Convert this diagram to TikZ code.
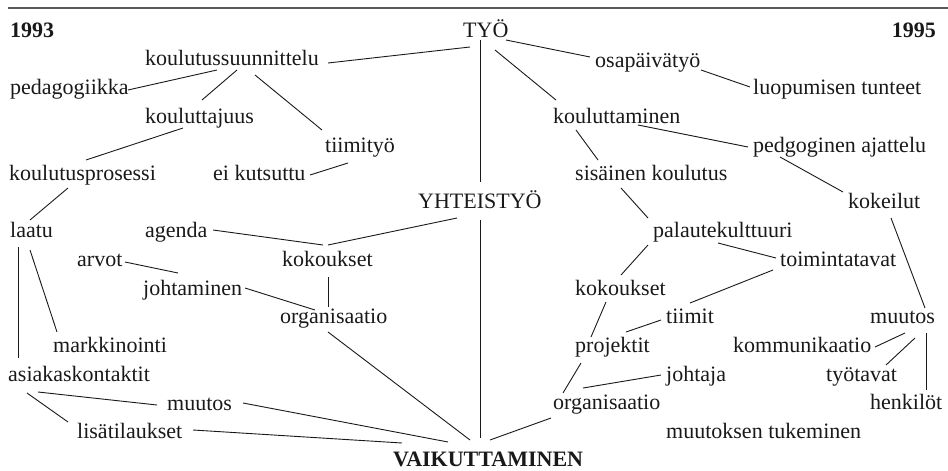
\documentclass[tikz,border=0pt]{standalone}
\usepackage{fontspec}
\setmainfont{Liberation Serif}
\newcommand\lnk[4]{\draw[conn] ([shift={(#2)}]#1.base west) -- ([shift={(#4)}]#3.base west);}
\begin{document}
\begin{tikzpicture}[x=1pt,y=-1pt,
  word/.style={anchor=base west,inner sep=0pt,font=\fontsize{22}{26}\selectfont,text=black!90},
  bword/.style={word,font=\fontsize{22}{26}\selectfont\bfseries},
  conn/.style={line width=0.9pt,black!90}]
\useasboundingbox (0,0) rectangle (948,471);
% top rule
\draw[line width=1.6pt,black!65] (8,8) -- (948,8);

% --- 1993 side and centre column
\node[bword] (y1993) at (10,37) {1993};
\node[word] (tyo) at (463,37) {TYÖ};
\node[bword,anchor=base east] (y1995) at (936,37) {1995};
\node[word] (ksuun) at (145,65) {koulutussuunnittelu};
\node[word] (peda) at (10,94) {pedagogiikka};
\node[word] (kjuus) at (145,123) {kouluttajuus};
\node[word] (tiimi) at (325,152) {tiimityö};
\node[word] (kpros) at (9,180) {koulutusprosessi};
\node[word] (eik) at (213,180) {ei kutsuttu};
\node[word] (yht) at (418,208) {YHTEISTYÖ};
\node[word] (laatu) at (10,237) {laatu};
\node[word] (agenda) at (145,237) {agenda};
\node[word] (arvot) at (77,266) {arvot};
\node[word] (kokL) at (282,266) {kokoukset};
\node[word] (johtL) at (143,295) {johtaminen};
\node[word] (orgL) at (280,323) {organisaatio};
\node[word] (mark) at (53,352) {markkinointi};
\node[word] (asiak) at (8,381) {asiakaskontaktit};
\node[word] (muuL) at (167,410) {muutos};
\node[word] (lisa) at (77,438) {lisätilaukset};
\node[bword] (vaik) at (393,466) {VAIKUTTAMINEN};

% --- 1995 side
\node[word] (osa) at (595,67) {osapäivätyö};
\node[word] (luop) at (753,94) {luopumisen tunteet};
\node[word] (kmin) at (553,123) {kouluttaminen};
\node[word] (pedg) at (753,152) {pedgoginen ajattelu};
\node[word] (sis) at (575,180) {sisäinen koulutus};
\node[word] (kok) at (848,208) {kokeilut};
\node[word] (pal) at (653,237) {palautekulttuuri};
\node[word] (toim) at (780,266) {toimintatavat};
\node[word] (kokR) at (575,295) {kokoukset};
\node[word] (tiimit) at (666,323) {tiimit};
\node[word] (muuR) at (870,323) {muutos};
\node[word] (proj) at (575,352) {projektit};
\node[word] (komm) at (733,352) {kommunikaatio};
\node[word] (johtaja) at (666,381) {johtaja};
\node[word] (tyot) at (826,381) {työtavat};
\node[word] (orgR) at (553,409) {organisaatio};
\node[word] (henk) at (870,409) {henkilöt};
\node[word] (tuk) at (666,438) {muutoksen tukeminen};

% --- links, left
\lnk{ksuun}{183,-2}{tyo}{7,10}
\lnk{ksuun}{72,5}{peda}{118,-4}
\lnk{ksuun}{92,5}{kjuus}{57,-23}
\lnk{ksuun}{110,10}{tiimi}{-3,-22}
\lnk{kjuus}{38,5}{kpros}{77,-20}
\lnk{tiimi}{23,11}{eik}{97,-5}
\lnk{kpros}{59,8}{laatu}{20,-17}
\lnk{tyo}{17,3}{yht}{62,-26}
\lnk{yht}{39,10}{kokL}{46,-21}
\lnk{agenda}{68,-7}{kokL}{41,-21}
\lnk{laatu}{8,10}{asiak}{10,-23}
\lnk{laatu}{20,13}{mark}{4,-20}
\lnk{arvot}{48,-4}{johtL}{35,-22}
\lnk{kokL}{46,11}{orgL}{48,-16}
\lnk{johtL}{102,-7}{orgL}{35,-13}
\lnk{orgL}{48,9}{vaik}{77,-26}
\lnk{yht}{62,12}{vaik}{87,-28}
\lnk{asiak}{30,11}{muuL}{-10,-5}
\lnk{asiak}{19,12}{lisa}{-9,-16}
\lnk{muuL}{76,-7}{vaik}{55,-24}
\lnk{lisa}{116,-8}{vaik}{9,-23}

% --- links, right
\lnk{tyo}{43,3}{osa}{-5,-10}
\lnk{osa}{106,3}{luop}{-3,-7}
\lnk{tyo}{32,13}{kmin}{3,-23}
\lnk{kmin}{85,2}{pedg}{-5,-5}
\lnk{kmin}{23,7}{sis}{23,-20}
\lnk{pedg}{27,5}{kok}{-5,-16}
\lnk{sis}{46,8}{pal}{-5,-19}
\lnk{kok}{43,10}{muuR}{55,-15}
\lnk{pal}{-5,8}{kokR}{46,-20}
\lnk{pal}{65,6}{toim}{-4,-8}
\lnk{toim}{-7,4}{tiimit}{24,-20}
\lnk{kokR}{31,7}{proj}{16,-15}
\lnk{tiimit}{-5,-3}{proj}{51,-20}
\lnk{proj}{6,11}{orgR}{10,-16}
\lnk{johtaja}{-5,-6}{orgR}{30,-21}
\lnk{orgR}{-2,9}{vaik}{97,-26}
\lnk{muuR}{35,10}{komm}{142,-5}
\lnk{muuR}{45,15}{tyot}{60,-16}
\lnk{muuR}{56,10}{henk}{56,-19}
\end{tikzpicture}
\end{document}
